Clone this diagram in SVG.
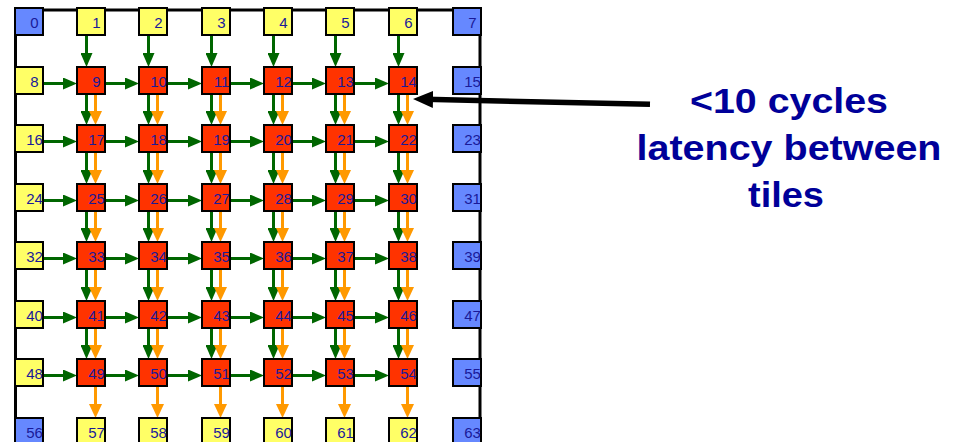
<svg xmlns="http://www.w3.org/2000/svg" width="956" height="442" viewBox="0 0 956 442">
<style>
.b{fill:#6688ff;stroke:#000;stroke-width:2}
.y{fill:#ffff66;stroke:#000;stroke-width:2}
.r{fill:#ff3300;stroke:#000;stroke-width:2}
.t{font-family:"Liberation Sans",Arial,sans-serif;font-size:15px;fill:#1a1a99;text-anchor:middle}
.g{stroke:#006600;stroke-width:3;marker-end:url(#ga)}
.o{stroke:#ff9900;stroke-width:3;marker-end:url(#oa)}
.big{font-family:"Liberation Sans",Arial,sans-serif;font-size:35px;font-weight:bold;fill:#000099;text-anchor:middle}
</style>
<defs>
<marker id="ga" markerUnits="userSpaceOnUse" markerWidth="14" markerHeight="12" refX="6" refY="6" orient="auto"><path d="M0,0 L14,6 L0,12 z" fill="#006600"/></marker>
<marker id="oa" markerUnits="userSpaceOnUse" markerWidth="14" markerHeight="13" refX="6" refY="6.5" orient="auto"><path d="M0,0 L14,6.5 L0,13 z" fill="#ff9900"/></marker>
<marker id="ba" markerUnits="userSpaceOnUse" markerWidth="20" markerHeight="17" refX="8" refY="8.5" orient="auto"><path d="M0,0 L20,8.5 L0,17 z" fill="#000"/></marker>
</defs>
<rect id="frame" x="15.5" y="10" width="464.5" height="445" fill="none" stroke="#000" stroke-width="3"/>
<g id="connectors">
<g id="green-vertical">
<line class="g" x1="86.5" y1="35" x2="86.5" y2="59"/><line class="g" x1="86.5" y1="94" x2="86.5" y2="117"/><line class="g" x1="86.5" y1="152" x2="86.5" y2="176"/><line class="g" x1="86.5" y1="211" x2="86.5" y2="234"/><line class="g" x1="86.5" y1="269" x2="86.5" y2="293"/><line class="g" x1="86.5" y1="328" x2="86.5" y2="351"/>
<line class="g" x1="148.5" y1="35" x2="148.5" y2="59"/><line class="g" x1="148.5" y1="94" x2="148.5" y2="117"/><line class="g" x1="148.5" y1="152" x2="148.5" y2="176"/><line class="g" x1="148.5" y1="211" x2="148.5" y2="234"/><line class="g" x1="148.5" y1="269" x2="148.5" y2="293"/><line class="g" x1="148.5" y1="328" x2="148.5" y2="351"/>
<line class="g" x1="211.5" y1="35" x2="211.5" y2="59"/><line class="g" x1="211.5" y1="94" x2="211.5" y2="117"/><line class="g" x1="211.5" y1="152" x2="211.5" y2="176"/><line class="g" x1="211.5" y1="211" x2="211.5" y2="234"/><line class="g" x1="211.5" y1="269" x2="211.5" y2="293"/><line class="g" x1="211.5" y1="328" x2="211.5" y2="351"/>
<line class="g" x1="273.5" y1="35" x2="273.5" y2="59"/><line class="g" x1="273.5" y1="94" x2="273.5" y2="117"/><line class="g" x1="273.5" y1="152" x2="273.5" y2="176"/><line class="g" x1="273.5" y1="211" x2="273.5" y2="234"/><line class="g" x1="273.5" y1="269" x2="273.5" y2="293"/><line class="g" x1="273.5" y1="328" x2="273.5" y2="351"/>
<line class="g" x1="335.5" y1="35" x2="335.5" y2="59"/><line class="g" x1="335.5" y1="94" x2="335.5" y2="117"/><line class="g" x1="335.5" y1="152" x2="335.5" y2="176"/><line class="g" x1="335.5" y1="211" x2="335.5" y2="234"/><line class="g" x1="335.5" y1="269" x2="335.5" y2="293"/><line class="g" x1="335.5" y1="328" x2="335.5" y2="351"/>
<line class="g" x1="398.5" y1="35" x2="398.5" y2="59"/><line class="g" x1="398.5" y1="94" x2="398.5" y2="117"/><line class="g" x1="398.5" y1="152" x2="398.5" y2="176"/><line class="g" x1="398.5" y1="211" x2="398.5" y2="234"/><line class="g" x1="398.5" y1="269" x2="398.5" y2="293"/><line class="g" x1="398.5" y1="328" x2="398.5" y2="351"/>
</g>
<g id="green-horizontal">
<line class="g" x1="43" y1="83.5" x2="69" y2="83.5"/><line class="g" x1="105" y1="83.5" x2="131" y2="83.5"/><line class="g" x1="167" y1="83.5" x2="194" y2="83.5"/><line class="g" x1="230" y1="83.5" x2="256" y2="83.5"/><line class="g" x1="292" y1="83.5" x2="318" y2="83.5"/><line class="g" x1="354" y1="83.5" x2="381" y2="83.5"/>
<line class="g" x1="43" y1="141.5" x2="69" y2="141.5"/><line class="g" x1="105" y1="141.5" x2="131" y2="141.5"/><line class="g" x1="167" y1="141.5" x2="194" y2="141.5"/><line class="g" x1="230" y1="141.5" x2="256" y2="141.5"/><line class="g" x1="292" y1="141.5" x2="318" y2="141.5"/><line class="g" x1="354" y1="141.5" x2="381" y2="141.5"/>
<line class="g" x1="43" y1="200.5" x2="69" y2="200.5"/><line class="g" x1="105" y1="200.5" x2="131" y2="200.5"/><line class="g" x1="167" y1="200.5" x2="194" y2="200.5"/><line class="g" x1="230" y1="200.5" x2="256" y2="200.5"/><line class="g" x1="292" y1="200.5" x2="318" y2="200.5"/><line class="g" x1="354" y1="200.5" x2="381" y2="200.5"/>
<line class="g" x1="43" y1="258.5" x2="69" y2="258.5"/><line class="g" x1="105" y1="258.5" x2="131" y2="258.5"/><line class="g" x1="167" y1="258.5" x2="194" y2="258.5"/><line class="g" x1="230" y1="258.5" x2="256" y2="258.5"/><line class="g" x1="292" y1="258.5" x2="318" y2="258.5"/><line class="g" x1="354" y1="258.5" x2="381" y2="258.5"/>
<line class="g" x1="43" y1="317.5" x2="69" y2="317.5"/><line class="g" x1="105" y1="317.5" x2="131" y2="317.5"/><line class="g" x1="167" y1="317.5" x2="194" y2="317.5"/><line class="g" x1="230" y1="317.5" x2="256" y2="317.5"/><line class="g" x1="292" y1="317.5" x2="318" y2="317.5"/><line class="g" x1="354" y1="317.5" x2="381" y2="317.5"/>
<line class="g" x1="43" y1="375.5" x2="69" y2="375.5"/><line class="g" x1="105" y1="375.5" x2="131" y2="375.5"/><line class="g" x1="167" y1="375.5" x2="194" y2="375.5"/><line class="g" x1="230" y1="375.5" x2="256" y2="375.5"/><line class="g" x1="292" y1="375.5" x2="318" y2="375.5"/><line class="g" x1="354" y1="375.5" x2="381" y2="375.5"/>
</g>
<g id="orange-vertical">
<line class="o" x1="95.5" y1="94" x2="95.5" y2="117"/><line class="o" x1="95.5" y1="152" x2="95.5" y2="176"/><line class="o" x1="95.5" y1="211" x2="95.5" y2="234"/><line class="o" x1="95.5" y1="269" x2="95.5" y2="293"/><line class="o" x1="95.5" y1="328" x2="95.5" y2="351"/><line class="o" x1="95.5" y1="386" x2="95.5" y2="410"/>
<line class="o" x1="157.5" y1="94" x2="157.5" y2="117"/><line class="o" x1="157.5" y1="152" x2="157.5" y2="176"/><line class="o" x1="157.5" y1="211" x2="157.5" y2="234"/><line class="o" x1="157.5" y1="269" x2="157.5" y2="293"/><line class="o" x1="157.5" y1="328" x2="157.5" y2="351"/><line class="o" x1="157.5" y1="386" x2="157.5" y2="410"/>
<line class="o" x1="220.5" y1="94" x2="220.5" y2="117"/><line class="o" x1="220.5" y1="152" x2="220.5" y2="176"/><line class="o" x1="220.5" y1="211" x2="220.5" y2="234"/><line class="o" x1="220.5" y1="269" x2="220.5" y2="293"/><line class="o" x1="220.5" y1="328" x2="220.5" y2="351"/><line class="o" x1="220.5" y1="386" x2="220.5" y2="410"/>
<line class="o" x1="282.5" y1="94" x2="282.5" y2="117"/><line class="o" x1="282.5" y1="152" x2="282.5" y2="176"/><line class="o" x1="282.5" y1="211" x2="282.5" y2="234"/><line class="o" x1="282.5" y1="269" x2="282.5" y2="293"/><line class="o" x1="282.5" y1="328" x2="282.5" y2="351"/><line class="o" x1="282.5" y1="386" x2="282.5" y2="410"/>
<line class="o" x1="344.5" y1="94" x2="344.5" y2="117"/><line class="o" x1="344.5" y1="152" x2="344.5" y2="176"/><line class="o" x1="344.5" y1="211" x2="344.5" y2="234"/><line class="o" x1="344.5" y1="269" x2="344.5" y2="293"/><line class="o" x1="344.5" y1="328" x2="344.5" y2="351"/><line class="o" x1="344.5" y1="386" x2="344.5" y2="410"/>
<line class="o" x1="407.5" y1="94" x2="407.5" y2="117"/><line class="o" x1="407.5" y1="152" x2="407.5" y2="176"/><line class="o" x1="407.5" y1="211" x2="407.5" y2="234"/><line class="o" x1="407.5" y1="269" x2="407.5" y2="293"/><line class="o" x1="407.5" y1="328" x2="407.5" y2="351"/><line class="o" x1="407.5" y1="386" x2="407.5" y2="410"/>
</g>
</g>
<g id="nodes">
<g id="n0"><rect class="b" x="15" y="8" width="28" height="27"/><text class="t" x="34.5" y="27.5">0</text></g>
<g id="n1"><rect class="y" x="77" y="8" width="28" height="27"/><text class="t" x="96.5" y="27.5">1</text></g>
<g id="n2"><rect class="y" x="139" y="8" width="28" height="27"/><text class="t" x="158.5" y="27.5">2</text></g>
<g id="n3"><rect class="y" x="202" y="8" width="28" height="27"/><text class="t" x="221.5" y="27.5">3</text></g>
<g id="n4"><rect class="y" x="264" y="8" width="28" height="27"/><text class="t" x="283.5" y="27.5">4</text></g>
<g id="n5"><rect class="y" x="326" y="8" width="28" height="27"/><text class="t" x="345.5" y="27.5">5</text></g>
<g id="n6"><rect class="y" x="389" y="8" width="28" height="27"/><text class="t" x="408.5" y="27.5">6</text></g>
<g id="n7"><rect class="b" x="453" y="8" width="28" height="27"/><text class="t" x="472.5" y="27.5">7</text></g>
<g id="n8"><rect class="y" x="15" y="67" width="28" height="27"/><text class="t" x="34.5" y="86.5">8</text></g>
<g id="n9"><rect class="r" x="77" y="67" width="28" height="27"/><text class="t" x="96.5" y="86.5">9</text></g>
<g id="n10"><rect class="r" x="139" y="67" width="28" height="27"/><text class="t" x="158.5" y="86.5">10</text></g>
<g id="n11"><rect class="r" x="202" y="67" width="28" height="27"/><text class="t" x="221.5" y="86.5">11</text></g>
<g id="n12"><rect class="r" x="264" y="67" width="28" height="27"/><text class="t" x="283.5" y="86.5">12</text></g>
<g id="n13"><rect class="r" x="326" y="67" width="28" height="27"/><text class="t" x="345.5" y="86.5">13</text></g>
<g id="n14"><rect class="r" x="389" y="67" width="28" height="27"/><text class="t" x="408.5" y="86.5">14</text></g>
<g id="n15"><rect class="b" x="453" y="67" width="28" height="27"/><text class="t" x="472.5" y="86.5">15</text></g>
<g id="n16"><rect class="y" x="15" y="125" width="28" height="27"/><text class="t" x="34.5" y="144.5">16</text></g>
<g id="n17"><rect class="r" x="77" y="125" width="28" height="27"/><text class="t" x="96.5" y="144.5">17</text></g>
<g id="n18"><rect class="r" x="139" y="125" width="28" height="27"/><text class="t" x="158.5" y="144.5">18</text></g>
<g id="n19"><rect class="r" x="202" y="125" width="28" height="27"/><text class="t" x="221.5" y="144.5">19</text></g>
<g id="n20"><rect class="r" x="264" y="125" width="28" height="27"/><text class="t" x="283.5" y="144.5">20</text></g>
<g id="n21"><rect class="r" x="326" y="125" width="28" height="27"/><text class="t" x="345.5" y="144.5">21</text></g>
<g id="n22"><rect class="r" x="389" y="125" width="28" height="27"/><text class="t" x="408.5" y="144.5">22</text></g>
<g id="n23"><rect class="b" x="453" y="125" width="28" height="27"/><text class="t" x="472.5" y="144.5">23</text></g>
<g id="n24"><rect class="y" x="15" y="184" width="28" height="27"/><text class="t" x="34.5" y="203.5">24</text></g>
<g id="n25"><rect class="r" x="77" y="184" width="28" height="27"/><text class="t" x="96.5" y="203.5">25</text></g>
<g id="n26"><rect class="r" x="139" y="184" width="28" height="27"/><text class="t" x="158.5" y="203.5">26</text></g>
<g id="n27"><rect class="r" x="202" y="184" width="28" height="27"/><text class="t" x="221.5" y="203.5">27</text></g>
<g id="n28"><rect class="r" x="264" y="184" width="28" height="27"/><text class="t" x="283.5" y="203.5">28</text></g>
<g id="n29"><rect class="r" x="326" y="184" width="28" height="27"/><text class="t" x="345.5" y="203.5">29</text></g>
<g id="n30"><rect class="r" x="389" y="184" width="28" height="27"/><text class="t" x="408.5" y="203.5">30</text></g>
<g id="n31"><rect class="b" x="453" y="184" width="28" height="27"/><text class="t" x="472.5" y="203.5">31</text></g>
<g id="n32"><rect class="y" x="15" y="242" width="28" height="27"/><text class="t" x="34.5" y="261.5">32</text></g>
<g id="n33"><rect class="r" x="77" y="242" width="28" height="27"/><text class="t" x="96.5" y="261.5">33</text></g>
<g id="n34"><rect class="r" x="139" y="242" width="28" height="27"/><text class="t" x="158.5" y="261.5">34</text></g>
<g id="n35"><rect class="r" x="202" y="242" width="28" height="27"/><text class="t" x="221.5" y="261.5">35</text></g>
<g id="n36"><rect class="r" x="264" y="242" width="28" height="27"/><text class="t" x="283.5" y="261.5">36</text></g>
<g id="n37"><rect class="r" x="326" y="242" width="28" height="27"/><text class="t" x="345.5" y="261.5">37</text></g>
<g id="n38"><rect class="r" x="389" y="242" width="28" height="27"/><text class="t" x="408.5" y="261.5">38</text></g>
<g id="n39"><rect class="b" x="453" y="242" width="28" height="27"/><text class="t" x="472.5" y="261.5">39</text></g>
<g id="n40"><rect class="y" x="15" y="301" width="28" height="27"/><text class="t" x="34.5" y="320.5">40</text></g>
<g id="n41"><rect class="r" x="77" y="301" width="28" height="27"/><text class="t" x="96.5" y="320.5">41</text></g>
<g id="n42"><rect class="r" x="139" y="301" width="28" height="27"/><text class="t" x="158.5" y="320.5">42</text></g>
<g id="n43"><rect class="r" x="202" y="301" width="28" height="27"/><text class="t" x="221.5" y="320.5">43</text></g>
<g id="n44"><rect class="r" x="264" y="301" width="28" height="27"/><text class="t" x="283.5" y="320.5">44</text></g>
<g id="n45"><rect class="r" x="326" y="301" width="28" height="27"/><text class="t" x="345.5" y="320.5">45</text></g>
<g id="n46"><rect class="r" x="389" y="301" width="28" height="27"/><text class="t" x="408.5" y="320.5">46</text></g>
<g id="n47"><rect class="b" x="453" y="301" width="28" height="27"/><text class="t" x="472.5" y="320.5">47</text></g>
<g id="n48"><rect class="y" x="15" y="359" width="28" height="27"/><text class="t" x="34.5" y="378.5">48</text></g>
<g id="n49"><rect class="r" x="77" y="359" width="28" height="27"/><text class="t" x="96.5" y="378.5">49</text></g>
<g id="n50"><rect class="r" x="139" y="359" width="28" height="27"/><text class="t" x="158.5" y="378.5">50</text></g>
<g id="n51"><rect class="r" x="202" y="359" width="28" height="27"/><text class="t" x="221.5" y="378.5">51</text></g>
<g id="n52"><rect class="r" x="264" y="359" width="28" height="27"/><text class="t" x="283.5" y="378.5">52</text></g>
<g id="n53"><rect class="r" x="326" y="359" width="28" height="27"/><text class="t" x="345.5" y="378.5">53</text></g>
<g id="n54"><rect class="r" x="389" y="359" width="28" height="27"/><text class="t" x="408.5" y="378.5">54</text></g>
<g id="n55"><rect class="b" x="453" y="359" width="28" height="27"/><text class="t" x="472.5" y="378.5">55</text></g>
<g id="n56"><rect class="b" x="15" y="418" width="28" height="27"/><text class="t" x="34.5" y="437.5">56</text></g>
<g id="n57"><rect class="y" x="77" y="418" width="28" height="27"/><text class="t" x="96.5" y="437.5">57</text></g>
<g id="n58"><rect class="y" x="139" y="418" width="28" height="27"/><text class="t" x="158.5" y="437.5">58</text></g>
<g id="n59"><rect class="y" x="202" y="418" width="28" height="27"/><text class="t" x="221.5" y="437.5">59</text></g>
<g id="n60"><rect class="y" x="264" y="418" width="28" height="27"/><text class="t" x="283.5" y="437.5">60</text></g>
<g id="n61"><rect class="y" x="326" y="418" width="28" height="27"/><text class="t" x="345.5" y="437.5">61</text></g>
<g id="n62"><rect class="y" x="389" y="418" width="28" height="27"/><text class="t" x="408.5" y="437.5">62</text></g>
<g id="n63"><rect class="b" x="453" y="418" width="28" height="27"/><text class="t" x="472.5" y="437.5">63</text></g>
</g>
<g id="callout">
<line x1="650" y1="104.3" x2="425" y2="99.3" stroke="#000" stroke-width="5.5" marker-end="url(#ba)"/>
<text class="big" x="789" y="113" textLength="198" lengthAdjust="spacingAndGlyphs">&lt;10 cycles</text>
<text class="big" x="789" y="160" textLength="305" lengthAdjust="spacingAndGlyphs">latency between</text>
<text class="big" x="786" y="206.5" textLength="76" lengthAdjust="spacingAndGlyphs">tiles</text>
</g>
</svg>
